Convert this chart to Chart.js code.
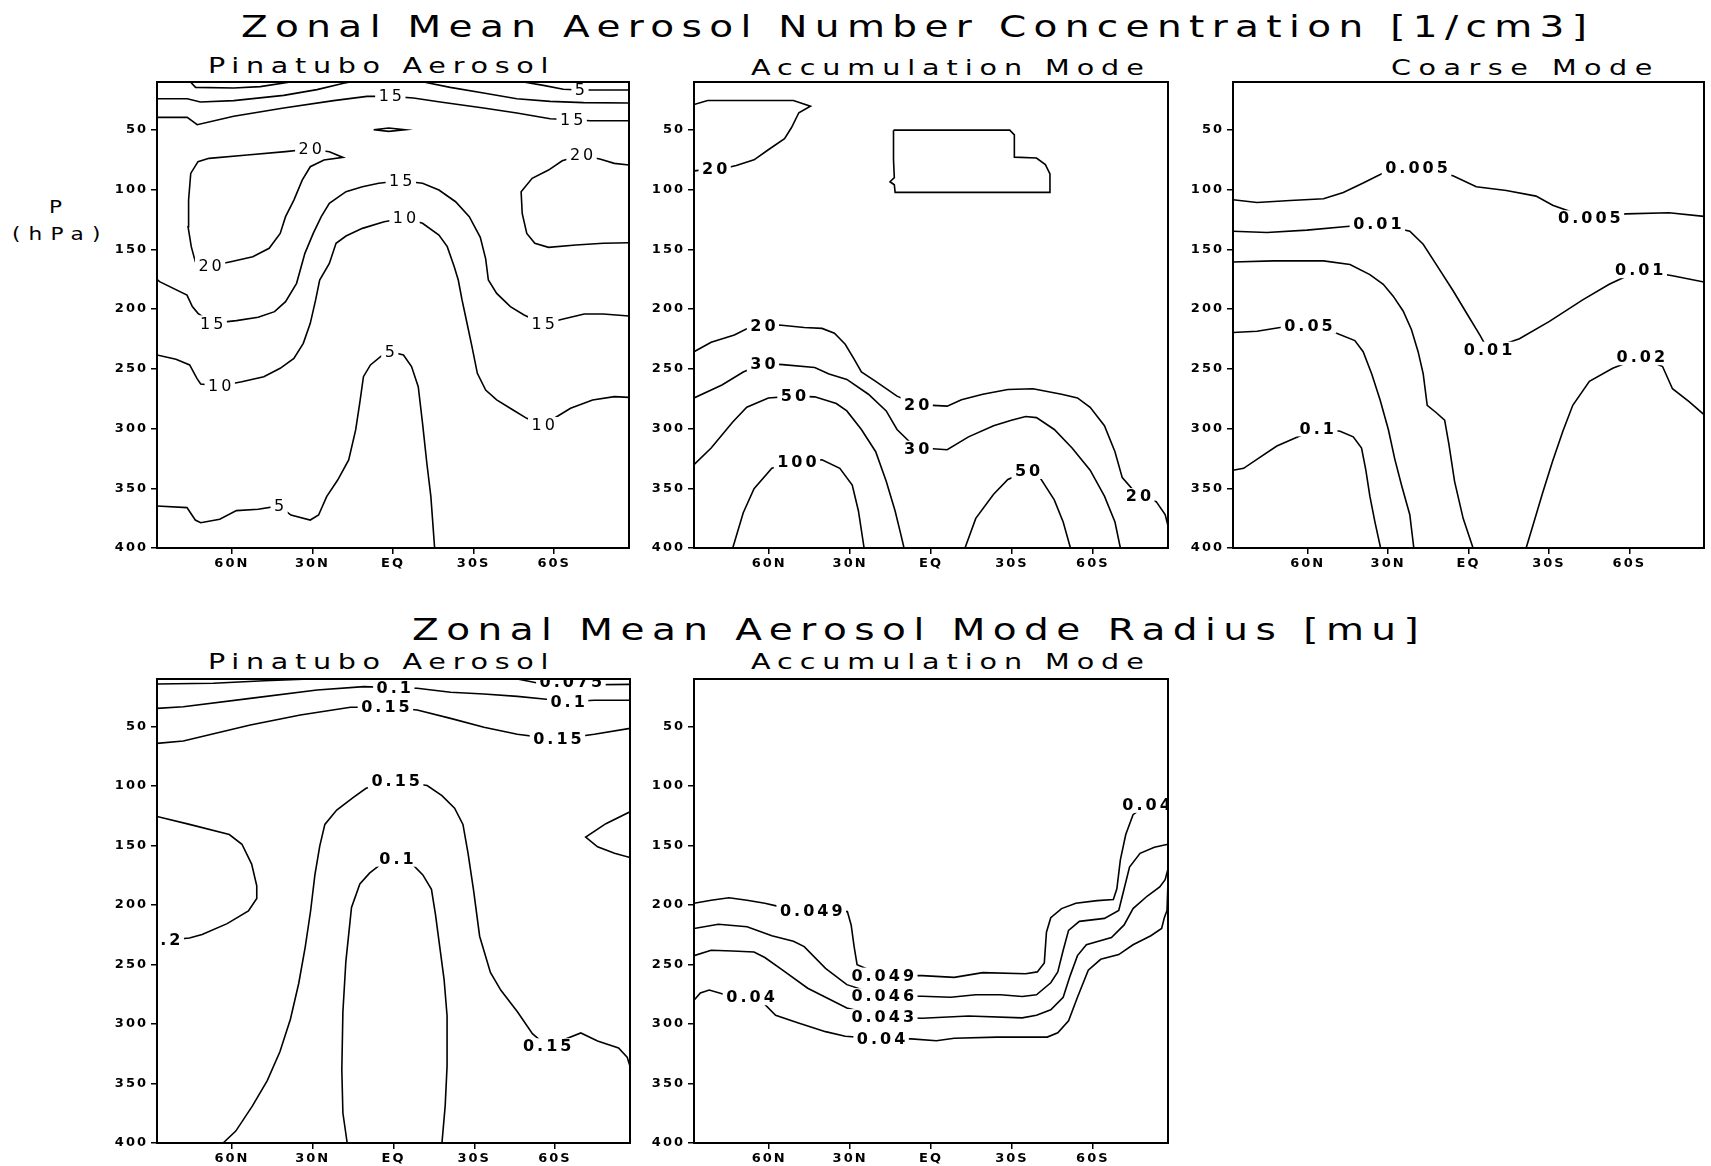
<!DOCTYPE html>
<html>
<head>
<meta charset="utf-8">
<script src="https://cdn.jsdelivr.net/npm/chart.js@4.4.1/dist/chart.umd.min.js"></script>
<style>
  body { margin: 0; background: #fff; width: 1711px; height: 1166px; position: relative; overflow: hidden; font-family: "DejaVu Sans", sans-serif; }
  .txt { position: absolute; white-space: pre; color: #000; line-height: 1; transform-origin: 0 0; }
  canvas { position: absolute; }
</style>
</head>
<body>
<script>
// --- axes ---
const latTicks = [60, 30, 0, -30, -60];
const latLabels = ['60N', '30N', 'EQ', '30S', '60S'];
const presTicks = [50, 100, 150, 200, 250, 300, 350, 400];
const latEdge = 87.86;
const presTop = 10, presBottom = 400;

// --- number concentration, Pinatubo aerosol: [lat, hPa] ---
const numPin5a = [[75.4,10],[73.5,14.5],[59.3,15.0],[49.4,13.9],[38.2,10]];
const numPin5b = [[-48.6,10],[-56.0,12.8],[-63.4,16.1],[-69.6,16.7],[-87.86,16.7]];
const numPin10a = [[87.86,24.0],[76.6,24.0],[71.7,26.7],[59.3,25.6],[40.7,21.2],[28.3,16.4],[18.4,11.1],[15.9,10]];
const numPin10b = [[-11.4,10],[-21.3,14.5],[-33.7,19.2],[-46.1,24.0],[-58.5,26.2],[-70.9,27.3],[-87.86,27.6]];
const numPin15top = [[87.86,39.6],[76.6,39.6],[72.9,45.7],[59.3,38.7],[40.7,31.8],[22.1,25.6],[9.7,22.0],[1.0,22.0],[-7.6,23.4],[-17.6,26.7],[-33.7,31.8],[-46.1,36.0],[-58.5,40.7],[-66.5,41.5],[-73.4,42.4],[-87.86,42.4]];
const numPin20dot = [[7.2,49.9],[1.6,48.5],[-4.5,49.9],[1.6,51.3],[7.2,49.9]];
const numPin20left = [[68.5,73.9],[54.3,71.1],[40.0,68.3],[30.8,66.1],[23.7,68.3],[18.6,73.1],[25.7,75.3],[30.8,80.9],[33.8,92.1],[36.9,108.8],[40.0,122.7],[42.0,136.7],[46.1,149.2],[52.2,156.2],[60.4,160.4],[68.1,164.0],[73.6,160.4],[75.1,147.8],[76.3,131.1],[76.1,108.8],[75.3,86.5],[72.6,76.7],[68.5,73.9]];
const numPin20right = [[-87.86,79.5],[-82.4,78.1],[-77.3,74.7],[-70.2,71.1],[-63.0,75.9],[-57.9,83.7],[-51.8,90.6],[-47.7,101.8],[-48.1,119.9],[-49.8,136.7],[-52.8,145.0],[-57.9,148.4],[-68.1,146.4],[-78.3,145.0],[-87.86,144.5]];
const numPin15arch = [[87.86,175.2],[86.9,177.1],[76.7,188.3],[74.7,198.0],[72.6,203.6],[67.5,212.0],[58.3,209.7],[50.2,206.9],[44.1,202.2],[40.0,193.8],[35.9,178.5],[32.8,153.4],[29.7,136.7],[26.7,122.7],[23.7,111.6],[17.5,101.8],[11.4,97.6],[5.3,94.8],[-2.9,92.6],[-11.0,94.8],[-17.1,100.4],[-23.3,110.2],[-28.4,122.7],[-32.5,140.0],[-34.5,158.0],[-35.5,175.7],[-38.6,186.9],[-43.7,198.0],[-48.8,205.0],[-55.9,212.5],[-63.0,208.6],[-71.2,204.2],[-78.3,204.2],[-87.86,205.8]];
const numPin10 = [[87.86,238.5],[80.8,242.1],[75.7,246.8],[73.0,258.0],[71.6,262.7],[64.5,264.4],[56.3,260.8],[48.1,256.6],[42.0,249.6],[36.9,241.3],[33.4,228.7],[30.8,212.0],[28.8,192.4],[27.3,175.7],[23.7,161.8],[21.2,145.0],[17.5,138.9],[11.4,132.5],[3.3,126.9],[-4.3,124.1],[-11.0,128.3],[-17.1,138.1],[-20.2,147.8],[-22.8,164.6],[-24.3,175.7],[-25.7,192.4],[-27.3,209.2],[-29.4,231.5],[-31.4,253.8],[-34.5,267.8],[-38.6,276.1],[-44.7,284.5],[-49.8,291.5],[-55.9,297.1],[-66.1,283.1],[-74.3,276.1],[-82.4,273.3],[-87.86,273.9]];
const numPin5 = [[87.86,364.8],[76.7,366.2],[73.6,376.6],[71.6,378.8],[64.5,376.0],[58.3,368.7],[50.2,367.6],[42.4,364.8],[38.0,372.4],[30.8,376.6],[27.7,372.4],[24.7,357.0],[20.6,343.1],[16.5,326.3],[13.9,301.2],[12.4,278.9],[11.0,256.6],[8.4,246.8],[4.3,239.3],[1.2,235.7],[-3.9,238.5],[-6.9,248.2],[-9.4,265.0],[-11.0,295.7],[-12.6,329.1],[-14.1,357.0],[-15.5,400]];
const numPinLabels = [['5',-69.6,16.7],['15',1.0,22.0],['15',-66.5,41.5],['20',30.8,66.1],['20',-70.2,71.1],['20',68.1,164.0],['15',-2.9,92.6],['10',-4.3,124.1],['15',67.5,212.0],['15',-55.9,212.5],['10',64.5,264.4],['10',-55.9,297.1],['5',1.2,235.7],['5',42.4,364.8]];

// --- number concentration, accumulation mode ---
const numAcc20top = [[87.86,28.9],[82.8,25.5],[51.0,25.5],[44.7,30.2],[49.0,35.7],[51.7,48.1],[54.3,57.4],[60.3,66.7],[65.6,75.1],[72.2,79.8],[74.9,81.3],[80.2,82.5],[87.86,84.4]];
const numAccBox = [[13.9,50.3],[-29.2,50.3],[-30.9,54.3],[-30.9,72.9],[-39.1,73.6],[-42.4,79.1],[-44.1,86.9],[-44.1,102.4],[13.3,102.4],[13.6,96.0],[15.2,93.5],[13.6,90.0],[13.9,75.0],[13.9,50.3]];
const numAcc20 = [[87.86,235.7],[81.5,227.9],[72.9,221.7],[68.3,216.5],[62.3,214.0],[56.3,213.4],[47.0,215.5],[40.4,216.2],[35.8,220.2],[31.8,229.5],[28.5,241.9],[25.8,252.7],[20.5,260.5],[12.6,272.9],[5.3,280.0],[-0.7,280.6],[-6.0,281.3],[-11.3,276.0],[-19.2,271.3],[-28.5,267.3],[-37.8,266.7],[-48.4,271.3],[-54.3,274.4],[-59.0,282.2],[-64.3,297.7],[-68.2,319.4],[-70.9,341.1],[-76.9,356.6],[-83.5,361.2],[-86.8,372.1],[-87.86,381.4]];
const numAcc30 = [[87.86,274.4],[77.5,263.6],[69.6,252.7],[62.3,245.6],[55.0,246.5],[43.1,249.0],[37.8,254.3],[31.2,258.9],[23.2,271.3],[16.6,285.3],[12.6,300.8],[5.3,316.9],[-0.7,316.9],[-6.0,317.8],[-13.9,307.0],[-23.2,297.7],[-29.8,293.0],[-35.1,289.9],[-39.1,290.9],[-45.7,300.8],[-52.3,316.3],[-59.0,334.9],[-64.3,356.6],[-68.2,378.3],[-70.2,400]];
const numAcc50a = [[87.86,330.2],[81.5,316.3],[73.5,294.6],[68.3,282.2],[60.3,274.4],[51.0,272.9],[43.1,273.5],[35.1,279.1],[31.2,285.3],[25.8,300.8],[20.5,319.4],[16.6,344.2],[13.3,369.0],[11.3,387.6],[10.0,400]];
const numAcc100 = [[73.5,400],[69.6,370.5],[65.6,350.4],[59.0,333.3],[49.7,328.1],[40.4,326.2],[33.8,333.3],[29.2,347.3],[26.9,369.0],[24.8,400]];
const numAcc50b = [[-12.6,400],[-16.6,375.2],[-23.2,355.0],[-28.5,342.6],[-35.8,335.5],[-40.4,341.1],[-45.7,359.7],[-49.0,378.3],[-51.7,400]];
const numAccLabels = [['20',80.2,82.5],['20',62.3,214.0],['20',5.3,280.0],['20',-76.9,356.6],['30',62.3,245.6],['30',5.3,316.9],['50',51.0,272.9],['100',49.7,328.1],['50',-35.8,335.5]];

// --- number concentration, coarse mode ---
const numCoa005 = [[87.86,108.6],[78.9,110.8],[66.5,109.2],[54.1,107.7],[46.7,102.4],[39.3,94.6],[32.4,86.9],[19.4,82.2],[5.8,88.4],[-2.9,97.7],[-14.1,100.8],[-25.2,105.5],[-31.4,113.2],[-45.1,124.1],[-58.7,120.4],[-74.8,119.4],[-87.86,122.5]];
const numCoa01 = [[87.86,134.9],[75.2,135.9],[60.3,134.0],[45.4,130.9],[34.0,128.7],[21.9,134.9],[16.9,145.8],[12.0,162.8],[5.8,184.5],[0.8,203.1],[-4.2,221.7],[-7.3,234.1],[-19.0,224.8],[-30.2,210.3],[-42.6,192.3],[-52.5,179.3],[-63.7,167.5],[-76.1,172.1],[-87.86,177.4]];
const numCoa02a = [[87.86,160.7],[72.7,159.7],[54.1,159.7],[44.2,162.8],[36.8,171.2],[31.8,179.3],[28.1,189.2],[24.4,201.6],[21.3,217.1],[18.8,235.7],[16.9,254.3],[15.4,280.6],[12.0,286.8],[8.9,293.0],[7.3,313.2],[5.2,344.2],[2.0,375.2],[-1.7,400]];
const numCoa05 = [[87.86,219.6],[78.9,218.6],[70.3,215.5],[59.7,214.0],[49.2,220.2],[42.4,226.4],[39.3,235.7],[36.1,254.3],[33.0,276.0],[29.9,300.8],[27.5,325.6],[25.0,347.3],[21.9,372.1],[20.4,400]];
const numCoa1 = [[87.86,334.9],[83.9,333.3],[77.7,324.0],[71.5,314.7],[65.3,308.5],[56.6,299.9],[47.9,302.3],[43.0,307.0],[39.9,316.3],[38.3,334.9],[36.8,356.6],[34.9,378.3],[32.8,400]];
const numCoa02b = [[-21.5,400],[-24.0,381.4],[-27.7,353.5],[-31.4,327.1],[-35.2,302.3],[-38.9,280.6],[-45.1,260.5],[-53.8,249.6],[-64.3,240.3],[-72.4,248.1],[-76.1,266.7],[-82.3,277.5],[-87.86,288.4]];
const numCoaLabels = [['0.005',19.4,82.2],['0.005',-45.1,124.1],['0.01',34.0,128.7],['0.01',-7.3,234.1],['0.01',-63.7,167.5],['0.05',59.7,214.0],['0.1',56.6,299.9],['0.02',-64.3,240.3]];

// --- mode radius, Pinatubo aerosol ---
const radPin075a = [[87.86,14.2],[66.9,13.6],[48.0,11.5],[30.9,10]];
const radPin075b = [[-46.0,10],[-53.5,13.4],[-65.9,15.0],[-87.86,14.5]];
const radPin1 = [[87.86,34.7],[78.1,33.3],[53.2,26.3],[28.4,19.2],[11.0,16.4],[-0.1,17.3],[-8.8,17.8],[-21.2,21.2],[-33.6,22.6],[-46.0,24.6],[-55.9,26.8],[-64.7,29.1],[-74.6,27.9],[-87.86,27.9]];
const radPin15top = [[87.86,64.1],[78.1,62.1],[53.2,48.7],[34.6,40.3],[16.0,33.8],[3.0,33.8],[-8.8,36.1],[-21.2,43.1],[-33.6,50.6],[-46.0,56.5],[-60.9,60.7],[-74.6,56.5],[-87.86,51.5]];
const radPin2a = [[87.86,125.5],[75.8,132.2],[61.0,140.7],[56.3,148.9],[52.7,165.6],[50.8,183.8],[50.8,194.4],[53.9,205.0],[61.8,215.6],[71.1,224.7],[75.8,227.7],[82.9,229.3]];
const radPin2b = [[-87.86,121.6],[-78.9,131.6],[-71.4,142.8],[-75.8,151.0],[-82.1,156.5],[-87.86,160.1]];
const radPin15 = [[63.3,400],[58.6,390.0],[52.4,368.8],[46.9,347.5],[42.2,323.3],[38.3,296.0],[35.2,265.7],[32.8,235.3],[30.8,205.0],[29.2,174.7],[27.4,150.4],[25.5,132.2],[21.1,120.1],[14.9,109.5],[10.2,101.9],[-0.8,95.8],[-12.5,99.5],[-18.0,108.0],[-22.7,118.6],[-25.8,132.2],[-27.7,156.5],[-29.7,186.8],[-32.0,226.2],[-36.0,256.6],[-39.9,271.7],[-46.1,289.9],[-51.6,308.1],[-57.1,318.7],[-69.6,307.5],[-75.8,314.2],[-83.6,320.2],[-86.8,327.8],[-87.86,335.4]];
const radPin1arch = [[17.2,400],[18.8,374.8],[19.2,338.4],[18.8,289.9],[17.7,247.5],[15.6,202.0],[12.5,182.3],[8.9,173.2],[4.7,165.6],[-1.1,161.0],[-7.0,165.6],[-10.9,174.7],[-14.1,186.8],[-15.6,208.0],[-17.2,235.3],[-18.8,262.6],[-19.9,293.0],[-19.9,335.4],[-19.2,368.8],[-18.0,400]];
const radPinLabels = [['0.075',-65.9,12.0],['0.1',-0.1,17.3],['0.1',-64.7,29.1],['0.15',3.0,33.8],['0.15',-60.9,60.7],['.2',82.9,229.3],['0.15',-0.8,95.8],['0.1',-1.1,161.0],['0.15',-57.1,318.7]];

// --- mode radius, accumulation mode ---
const radAcc049 = [[87.86,198.5],[81.5,196.0],[74.9,193.9],[68.2,196.0],[61.6,198.5],[57.0,200.9],[44.4,204.5],[31.0,205.5],[29.6,216.7],[28.5,234.9],[27.4,250.1],[17.9,259.3],[3.3,259.3],[-8.6,260.8],[-19.2,256.8],[-35.1,257.7],[-39.4,256.2],[-42.0,248.6],[-42.8,222.8],[-44.4,210.6],[-48.4,203.0],[-53.7,198.5],[-61.6,196.3],[-67.6,195.4],[-68.9,186.3],[-70.2,162.0],[-72.2,140.7],[-74.9,124.0],[-79.9,115.8]];
const radAcc046 = [[87.86,219.7],[78.8,216.1],[68.2,218.2],[59.0,225.8],[51.0,230.4],[47.0,234.9],[39.1,253.2],[31.2,266.9],[17.9,276.6],[3.3,276.6],[-7.3,277.5],[-16.6,275.4],[-25.8,275.4],[-33.8,276.9],[-39.1,275.4],[-44.4,265.3],[-47.0,256.2],[-49.0,238.0],[-51.0,221.3],[-55.0,213.7],[-64.3,211.2],[-69.6,204.5],[-71.6,186.3],[-73.6,168.1],[-77.5,156.5],[-82.8,151.4],[-87.86,148.9]];
const radAcc043 = [[87.86,242.5],[81.5,238.0],[73.6,238.6],[65.6,239.5],[61.6,244.1],[55.0,254.7],[45.7,269.9],[37.8,279.0],[31.2,286.6],[17.9,294.2],[3.3,295.1],[-13.9,293.3],[-33.8,294.8],[-39.1,292.7],[-44.4,288.1],[-49.0,277.5],[-51.6,259.3],[-54.3,242.5],[-57.6,233.4],[-66.9,227.3],[-71.6,216.7],[-74.9,203.0],[-80.2,192.4],[-84.8,184.8],[-86.8,178.7],[-87.86,169.6]];
const radAcc040 = [[87.86,279.9],[85.5,273.9],[82.2,271.4],[77.5,274.5],[66.9,277.5],[61.6,283.6],[57.6,292.7],[49.7,298.8],[39.1,306.4],[31.8,310.3],[18.5,312.5],[7.3,312.5],[-2.0,314.0],[-8.6,311.9],[-24.5,311.0],[-43.1,311.0],[-47.0,307.3],[-51.0,297.3],[-54.3,277.5],[-58.3,254.7],[-62.9,245.6],[-69.6,241.6],[-74.9,233.4],[-81.5,225.8],[-85.5,219.7],[-86.5,210.6],[-87.5,204.5],[-87.86,180.2]];
const radAccLabels = [['0.049',44.4,204.5],['0.049',17.9,259.3],['0.04',-79.9,115.8],['0.046',17.9,276.6],['0.043',17.9,294.2],['0.04',66.9,277.5],['0.04',18.5,312.5]];

// --- page layout: [left, top, width, height] of each plot frame ---
const panels = [
  { box: [157, 82, 472, 466], lines: [numPin5a, numPin5b, numPin10a, numPin10b, numPin15top, numPin20dot, numPin20left, numPin20right, numPin15arch, numPin10, numPin5], labels: numPinLabels, weight: 'normal' },
  { box: [694, 82, 474, 466], lines: [numAcc20top, numAccBox, numAcc20, numAcc30, numAcc50a, numAcc100, numAcc50b], labels: numAccLabels, weight: 'bold' },
  { box: [1233, 82, 471, 466], lines: [numCoa005, numCoa01, numCoa02a, numCoa05, numCoa1, numCoa02b], labels: numCoaLabels, weight: 'bold' },
  { box: [157, 679, 473, 464], lines: [radPin075a, radPin075b, radPin1, radPin15top, radPin2a, radPin2b, radPin15, radPin1arch], labels: radPinLabels, weight: 'bold' },
  { box: [694, 679, 474, 464], lines: [radAcc049, radAcc046, radAcc043, radAcc040], labels: radAccLabels, weight: 'bold' }
];

// text, left, right, baseline, font size, horizontal stretch
const texts = [
  ['Zonal Mean Aerosol Number Concentration [1/cm3]', 241, 1587, 37, 30, 1.3],
  ['Pinatubo Aerosol', 208, 549, 74, 22, 1.3],
  ['Accumulation Mode', 751, 1144, 76, 22, 1.3],
  ['Coarse Mode', 1391, 1652, 76, 22, 1.3],
  ['Zonal Mean Aerosol Mode Radius [mu]', 412, 1419, 640, 30, 1.3],
  ['Pinatubo Aerosol', 208, 549, 670, 22, 1.3],
  ['Accumulation Mode', 751, 1144, 670, 22, 1.3],
  ['P', 49, 66, 213, 18, 1.2],
  ['(hPa)', 12, 101, 240, 18, 1.2]
];

texts.forEach(([str, left, right, base, size, sx]) => {
  const el = document.createElement('div');
  el.className = 'txt';
  el.textContent = str;
  el.style.fontSize = size + 'px';
  document.body.appendChild(el);
  const w0 = el.offsetWidth;
  if (str.length > 1) el.style.letterSpacing = Math.max(0, ((right - left) / sx - w0) / (str.length - 1)) + 'px';
  el.style.transform = 'scaleX(' + sx + ')';
  el.style.left = left + 'px';
  el.style.top = (base - 0.846 * size) + 'px';
});

// contour labels with a white gap behind them
const contourLabels = {
  id: 'contourLabels',
  afterDatasetsDraw(chart, args, opts) {
    const { ctx, chartArea: a, scales: { x, y } } = chart;
    ctx.save();
    ctx.beginPath();
    ctx.rect(a.left, a.top, a.right - a.left, a.bottom - a.top);
    ctx.clip();
    ctx.font = opts.weight + ' 16px "DejaVu Sans"';
    ctx.letterSpacing = '3px';
    ctx.textAlign = 'center';
    ctx.textBaseline = 'middle';
    opts.items.forEach(([txt, lat, p]) => {
      const px = x.getPixelForValue(lat), py = y.getPixelForValue(p);
      const w = ctx.measureText(txt).width;
      ctx.fillStyle = '#fff';
      ctx.fillRect(px - w / 2 - 2, py - 8, w + 4, 16);
      ctx.fillStyle = '#000';
      ctx.fillText(txt, px + 1.5, py + 1);
    });
    ctx.restore();
  }
};

const frame = {
  id: 'frame',
  beforeDraw(chart) { chart.ctx.letterSpacing = '2px'; },
  afterDraw(chart) {
    const { ctx, chartArea: a } = chart;
    ctx.save();
    ctx.strokeStyle = '#000';
    ctx.lineWidth = 2;
    ctx.strokeRect(a.left, a.top, a.right - a.left, a.bottom - a.top);
    ctx.restore();
  }
};

panels.forEach(pn => {
  const [L, T, W, H] = pn.box;
  const cv = document.createElement('canvas');
  cv.width = W + 80;
  cv.height = H + 40;
  cv.style.left = (L - 70) + 'px';
  cv.style.top = (T - 10) + 'px';
  document.body.appendChild(cv);

  new Chart(cv.getContext('2d'), {
    type: 'scatter',
    data: {
      datasets: pn.lines.map(line => ({
        data: line.map(([lat, p]) => ({ x: lat, y: p })),
        showLine: true,
        borderColor: '#000',
        borderWidth: 1.6,
        pointRadius: 0,
        tension: 0,
        fill: false
      }))
    },
    options: {
      responsive: false,
      animation: false,
      events: [],
      layout: { padding: { top: 10, right: 10, left: 0, bottom: 0 } },
      scales: {
        x: {
          type: 'linear', reverse: true, min: -latEdge, max: latEdge,
          afterBuildTicks: s => { s.ticks = latTicks.map(v => ({ value: v })); },
          afterFit: s => { s.height = 30; s.paddingLeft = 0; s.paddingRight = 0; },
          ticks: {
            color: '#000', padding: 2, maxRotation: 0, autoSkip: false,
            font: { family: 'DejaVu Sans', size: 13, weight: 'bold' },
            callback: v => latLabels[latTicks.indexOf(v)]
          },
          grid: { drawOnChartArea: false, drawTicks: true, tickLength: 6, color: '#000', lineWidth: 1.5 },
          border: { display: true, color: '#000', width: 2 }
        },
        y: {
          type: 'linear', reverse: true, min: presTop, max: presBottom,
          afterBuildTicks: s => { s.ticks = presTicks.map(v => ({ value: v })); },
          afterFit: s => { s.width = 70; s.paddingTop = 0; s.paddingBottom = 0; },
          ticks: {
            color: '#000', padding: 3, autoSkip: false,
            font: { family: 'DejaVu Sans', size: 13, weight: 'bold' }
          },
          grid: { drawOnChartArea: false, drawTicks: true, tickLength: 6, color: '#000', lineWidth: 1.5 },
          border: { display: true, color: '#000', width: 2 }
        }
      },
      plugins: {
        legend: { display: false },
        tooltip: { enabled: false },
        contourLabels: { items: pn.labels, weight: pn.weight }
      }
    },
    plugins: [contourLabels, frame]
  });
});
</script>
</body>
</html>
